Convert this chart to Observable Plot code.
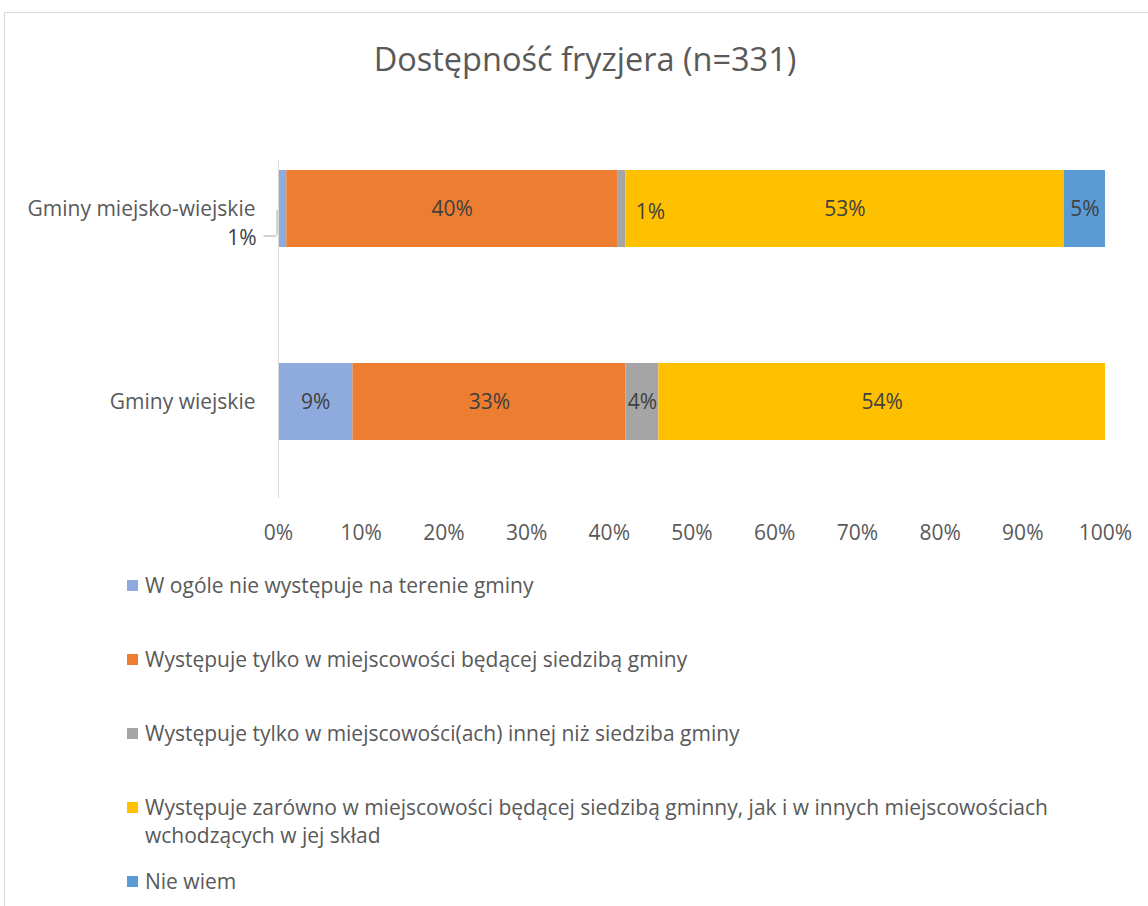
<!DOCTYPE html>
<html>
<head>
<meta charset="utf-8">
<script src="https://cdn.jsdelivr.net/npm/d3@7"></script>
<script src="https://cdn.jsdelivr.net/npm/@observablehq/plot@0.6"></script>
<style>
  html, body { margin: 0; padding: 0; background: #fff; overflow: hidden; }
  #wrap { position: relative; width: 1148px; height: 906px; font-family: "Open Sans", sans-serif; color: #595959; }
  #frame { position: absolute; left: 4px; top: 12px; width: 1200px; height: 1000px; border: 1px solid #d9d9d9; box-sizing: border-box; }
  #title { position: absolute; left: 4px; width: 1162px; top: 36px; text-align: center; font-size: 32.5px; color: #595959; }
  #chart { position: absolute; left: 0; top: 130px; }
  .leg { position: absolute; left: 127px; font-size: 21px; line-height: 28px; color: #595959; }
  .leg .sw { position: absolute; left: 0; top: 9px; width: 11px; height: 11px; }
  .leg .tx { position: absolute; left: 18px; top: 0; width: 925px; }
</style>
</head>
<body>
<div id="wrap">
  <div id="frame"></div>
  <div id="title"></div>
  <div id="chart"></div>
  <div id="legend"></div>
</div>
<script>
const titleText = "Dostępność fryzjera (n=331)";
const categories = ["Gminy miejsko-wiejskie", "Gminy wiejskie"];
const series = [
  "W ogóle nie występuje na terenie gminy",
  "Występuje tylko w miejscowości będącej siedzibą gminy",
  "Występuje tylko w miejscowości(ach) innej niż siedziba gminy",
  "Występuje zarówno w miejscowości będącej siedzibą gminny, jak i w innych miejscowościach wchodzących w jej skład",
  "Nie wiem"
];
const colors = ["#8faadc", "#ed7d31", "#a5a5a5", "#ffc000", "#5b9bd5"];
const valuesMiejskoWiejskie = [1, 40, 1, 53, 5];
const valuesWiejskie = [9, 33, 4, 54, 0];
const xTicks = [0, 10, 20, 30, 40, 50, 60, 70, 80, 90, 100];

document.getElementById("title").textContent = titleText;

// build stacked rows
const allValues = [valuesMiejskoWiejskie, valuesWiejskie];
const rows = [];
categories.forEach((cat, ci) => {
  let acc = 0;
  allValues[ci].forEach((v, si) => {
    rows.push({cat, series: series[si], si, value: v, x1: acc, x2: acc + v, mid: acc + v / 2});
    acc += v;
  });
});

// label placement: small first segment of top bar gets outside label with leader,
// small gray segment of top bar gets label to its right
const outside = rows.filter(r => r.cat === categories[0] && r.si === 0);
const rightOf = rows.filter(r => r.cat === categories[0] && r.si === 2);
const centered = rows.filter(r => r.value > 0 && !outside.includes(r) && !rightOf.includes(r));

const chart = Plot.plot({
  width: 1148,
  height: 440,
  marginLeft: 278,
  marginRight: 43,
  marginTop: 30,
  marginBottom: 72,
  style: {fontFamily: "Open Sans, sans-serif", fontSize: "21px", color: "#595959", background: "transparent"},
  x: {domain: [0, 100], label: null},
  y: {domain: categories, range: [40, 311], paddingInner: 0.6, paddingOuter: 0, label: null},
  color: {domain: series, range: colors},
  marks: [
    Plot.barX(rows, {x1: "x1", x2: "x2", y: "cat", fill: "series"}),
    Plot.ruleX([0], {stroke: "#d9d9d9", strokeWidth: 1}),
    Plot.text(centered, {x: "mid", y: "cat", text: d => d.value + "%", fill: "#404040", fontSize: 21}),
    Plot.text(rightOf, {x: "x2", y: "cat", text: d => d.value + "%", fill: "#404040", fontSize: 21, textAnchor: "start", dx: 10, dy: 3}),
    Plot.text(outside, {x: "x1", y: "cat", text: d => d.value + "%", fill: "#404040", fontSize: 21, textAnchor: "end", dx: -22, dy: 29}),
    Plot.tickX(outside, {x: "x1", y: "cat", stroke: "#a6a6a6", dx: -1.5, insetTop: 40, insetBottom: 12}),
    Plot.ruleY(outside, {y: "cat", x1: d => d.x1, x2: d => d.x1, stroke: "#a6a6a6", dy: 27, dx: -1.5, insetLeft: -13}),
    Plot.axisX({ticks: xTicks, tickSize: 0, tickPadding: 27, tickFormat: d => d + "%", fill: "#595959", fontSize: 21}),
    Plot.axisY({tickSize: 0, tickPadding: 23, fill: "#595959", fontSize: 21})
  ]
});
document.getElementById("chart").appendChild(chart);

// legend
const legend = document.getElementById("legend");
series.forEach((s, i) => {
  const d = document.createElement("div");
  d.className = "leg";
  d.style.top = (571 + i * 74) + "px";
  const sw = document.createElement("span");
  sw.className = "sw";
  sw.style.background = colors[i];
  const tx = document.createElement("span");
  tx.className = "tx";
  tx.textContent = s;
  d.appendChild(sw);
  d.appendChild(tx);
  legend.appendChild(d);
});
</script>
</body>
</html>
